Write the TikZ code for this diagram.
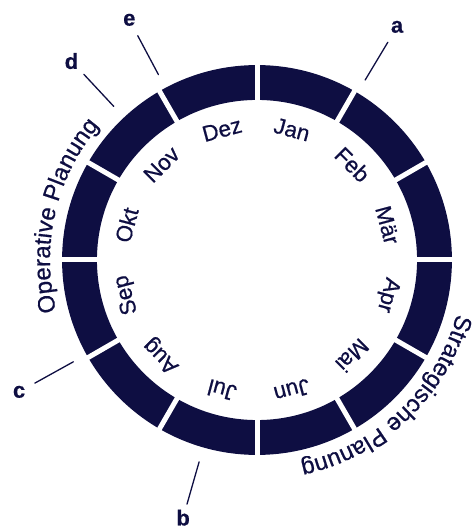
\documentclass[tikz,border=0pt]{standalone}
\usepackage{fontspec}
\setmainfont{Liberation Sans}[FakeBold=0.6]
\usetikzlibrary{decorations.text}
\definecolor{ringblue}{RGB}{14,14,66}
\newfontfamily\medfont{Liberation Sans}[FakeBold=0.6]
\newcommand{\monthfont}{\medfont\fontsize{22.5}{24}\selectfont}
\newcommand{\outerfont}{\medfont\fontsize{24}{26}\selectfont}
\begin{document}
\begin{tikzpicture}[x=1bp,y=1bp,line join=round,line cap=round,font=\monthfont,text=ringblue]
	\tikzset{month/.style={inner sep=0pt,anchor=center},
		letter/.style={font=\fontsize{22}{24}\selectfont\bfseries,inner sep=0pt},
		tick/.style={ringblue,line width=1.3bp}}
	\def \rin{160}
	\def \rout{195}
	\def \rmonth{135}
	\def \rtext{207}
	\useasboundingbox (-257,-269) rectangle (217,260);
	% ring with white gaps
	\draw[ringblue,line width=\rout-\rin] (0,0) circle[radius={(\rin+\rout)/2}];
	\foreach \a in {0,30,...,330}
		\draw[white,line width=5bp,line cap=butt] (\a:\rin-3) -- (\a:\rout+3);
	% months
	\foreach \m [count=\i] in {Jan,Feb,Mär,Apr,Mai,Jun,Jul,Aug,Sep,Okt,Nov,Dez}
		\node[month,rotate={15-30*\i}] (m\i) at ({105-30*\i}:\rmonth) {\m};
	% outer texts
	\path[decorate,decoration={text along path,text align=center,
		text={|\outerfont\color{ringblue}|Operative Planung}}]
		(197:\rtext) arc[start angle=197,end angle=137,radius=\rtext];
	\path[decorate,decoration={text along path,text align=center,
		text={|\outerfont\color{ringblue}|Strategische Planung}}]
		(-14:\rtext) arc[start angle=-14,end angle=-79,radius=\rtext];
	% marks a to e
	\foreach \n/\a/\r in {a/59/272,b/254/268,c/209/272,d/133/272,e/118/272}{
		\coordinate (\n0) at (\a:210);
		\coordinate (\n1) at (\a:254);
		\node[letter] (\n) at (\a:\r) {\n};
		\draw[tick] (\n0) -- (\n1);
	}
\end{tikzpicture}
\end{document}
